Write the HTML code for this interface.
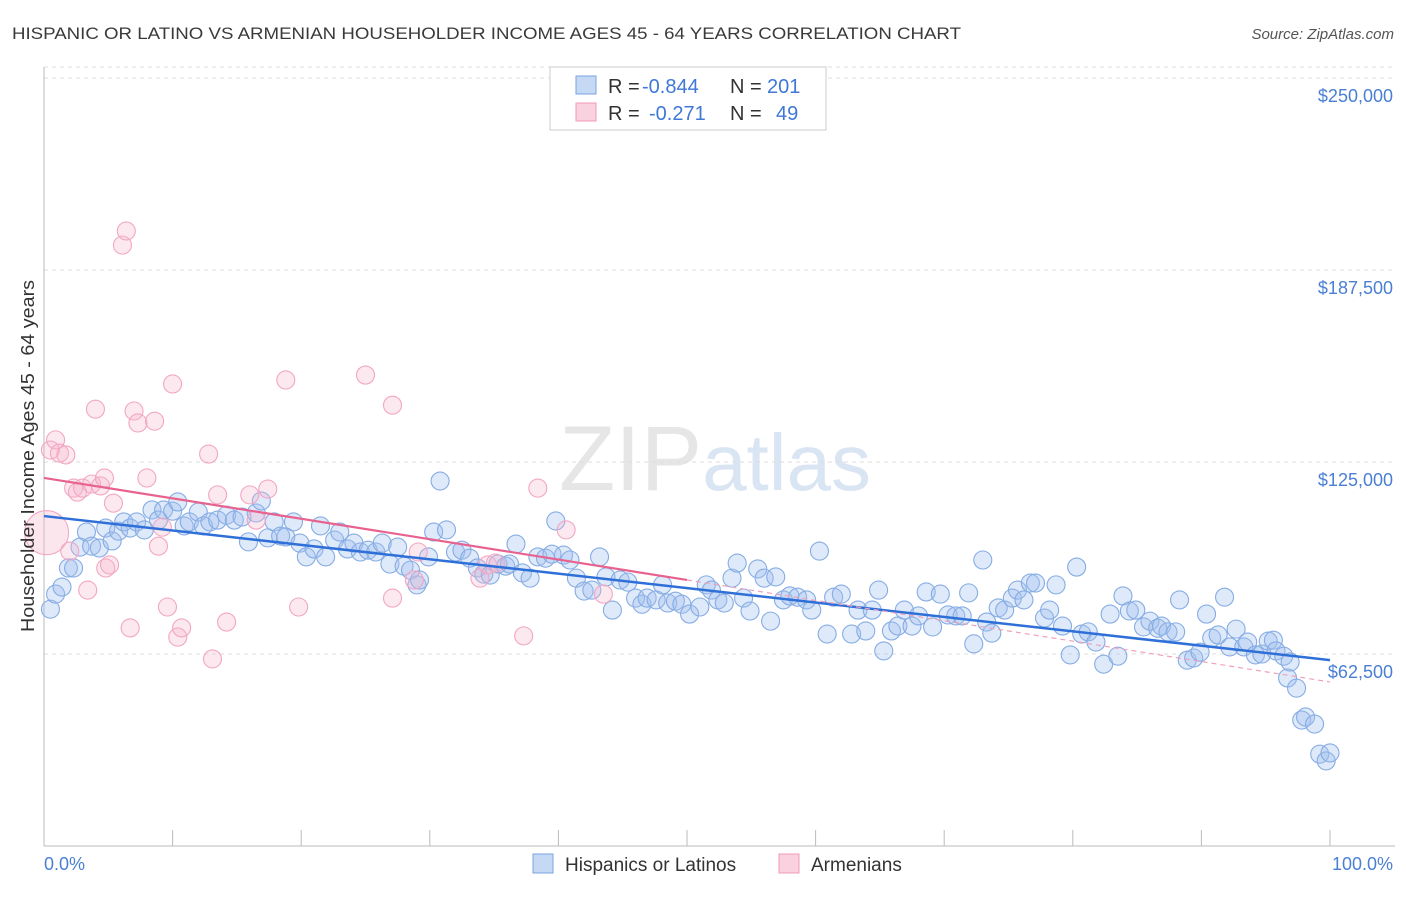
<!DOCTYPE html>
<html><head><meta charset="utf-8"><style>
body{margin:0;background:#fff;font-family:"Liberation Sans",sans-serif;}
svg text{font-family:"Liberation Sans",sans-serif;}
</style></head><body>
<svg id="chart" width="1406" height="892" viewBox="0 0 1406 892" xmlns="http://www.w3.org/2000/svg">
<text x="12" y="39" font-size="17" fill="#3a3a3a" textLength="949" lengthAdjust="spacingAndGlyphs">HISPANIC OR LATINO VS ARMENIAN HOUSEHOLDER INCOME AGES 45 - 64 YEARS CORRELATION CHART</text>
<text x="1394" y="39" font-size="15" fill="#555" text-anchor="end" font-style="italic">Source: ZipAtlas.com</text>
<text x="715" y="490" font-size="92" fill="#e6e6e6" text-anchor="middle" font-family="Liberation Serif"><tspan>ZIP</tspan><tspan fill="#dae5f4" font-family="Liberation Sans" font-size="80">atlas</tspan></text>
<g id="grid"></g>
<g id="axes"></g>
<g id="pts"></g>
<g id="trend"></g>
<text transform="translate(34,456) rotate(-90)" font-size="18" fill="#333" text-anchor="middle" textLength="352" lengthAdjust="spacingAndGlyphs">Householder Income Ages 45 - 64 years</text>
<text x="44" y="870" font-size="18" fill="#4a7fd4">0.0%</text>
<text x="1393" y="870" font-size="18" fill="#4a7fd4" text-anchor="end">100.0%</text>
<g>
<rect x="550" y="67" width="276" height="63" fill="#fff" stroke="#ccc"/>
<rect x="576" y="76" width="20" height="18" fill="#c5d8f4" stroke="#7aa3e0"/>
<rect x="576" y="103" width="20" height="18" fill="#fad2df" stroke="#f09ab8"/>
<text x="608" y="93" font-size="20" fill="#333">R =</text>
<text x="642" y="93" font-size="20" fill="#3f78d6">-0.844</text>
<text x="730" y="93" font-size="20" fill="#333">N =</text>
<text x="767" y="93" font-size="20" fill="#3f78d6">201</text>
<text x="608" y="120" font-size="20" fill="#333">R =</text>
<text x="649" y="120" font-size="20" fill="#3f78d6">-0.271</text>
<text x="730" y="120" font-size="20" fill="#333">N =</text>
<text x="776" y="120" font-size="20" fill="#3f78d6">49</text>
</g>
<g>
<rect x="533" y="854" width="20" height="19" fill="#c5d8f4" stroke="#7aa3e0"/>
<text x="565" y="871" font-size="19" fill="#333">Hispanics or Latinos</text>
<rect x="779" y="854" width="20" height="19" fill="#fad2df" stroke="#f09ab8"/>
<text x="811" y="871" font-size="19" fill="#333">Armenians</text>
</g>
</svg>
<script>
const yTicks=[62500,125000,187500,250000];
const yTickLabels=["$62,500","$125,000","$187,500","$250,000"];
const xTicks=[0,10,20,30,40,50,60,70,80,90,100];
const blueX=[0.5,0.9,1.4,1.9,2.3,2.8,3.3,3.7,4.3,4.8,5.3,5.8,6.2,6.7,7.2,7.8,8.4,8.9,9.3,10,10.4,10.9,11.3,12,12.4,12.9,13.5,14.2,14.8,15.4,15.9,16.5,16.9,17.4,17.9,18.4,18.8,19.4,19.9,20.4,21,21.5,21.9,22.6,23,23.6,24.1,24.6,25.2,25.8,26.3,26.9,27.5,28,28.5,29,29.2,29.9,30.3,30.8,31.3,32,32.5,33.1,33.7,34.2,34.7,35.3,35.9,36.2,36.7,37.2,37.8,38.4,39,39.5,39.8,40.4,40.9,41.4,42,42.6,43.2,43.7,44.2,44.8,45.4,46,46.5,46.9,47.6,48.1,48.5,49.1,49.6,50.2,51,51.5,51.9,52.4,52.9,53.5,53.9,54.4,54.9,55.5,56,56.5,56.9,57.5,58,58.6,59.3,59.7,60.3,60.9,61.4,62,62.8,63.3,63.9,64.4,64.9,65.3,65.9,66.4,66.9,67.5,68,68.6,69.1,69.7,70.3,70.9,71.4,71.9,72.3,73,73.3,73.7,74.2,74.7,75.3,75.7,76.2,76.7,77.1,77.8,78.2,78.7,79.2,79.8,80.3,80.7,81.2,81.8,82.4,82.9,83.5,83.9,84.4,84.9,85.5,86,86.6,86.9,87.4,88,88.3,88.9,89.4,89.9,90.4,90.8,91.3,91.8,92.2,92.7,93.3,93.6,94.2,94.7,95.2,95.6,95.8,96.4,96.7,96.9,97.4,97.8,98.1,98.8,99.2,99.7,100];
const blueY=[77.1,82,84.3,90.5,90.5,97.3,102.2,97.6,97,103.5,99.3,102.5,105.5,103.5,105.5,102.9,109.4,106.1,109.4,109,112,104.2,105.5,108.7,104.2,105.5,106.1,107.7,106.1,107.1,99,108.4,112.3,100.3,105.5,100.9,100.6,105.5,98.6,94.1,96.7,104.2,94.1,99.6,102.2,96.7,98.6,95.7,96.3,95.7,98.6,91.8,97.3,91.1,89.8,85,86.6,94.1,102.2,118.8,102.9,95.7,96.3,93.7,90.5,88.5,88.2,91.8,91.1,91.8,98.3,88.9,87.2,94.1,93.7,95,105.8,94.7,93.1,87.2,83,83.3,94.1,87.6,76.8,86.6,85.9,80.7,78.7,80.7,80.1,85,79.1,79.7,78.7,75.5,77.8,85,83.3,80.1,79.1,87.2,92.1,80.7,76.5,90.2,87.2,73.2,87.6,80.1,81.4,81,80.1,76.8,96,69,81,82,69,76.8,70,76.8,83.3,63.5,70,71.6,76.8,71.6,74.9,82.7,71.3,82,75.2,74.9,74.9,82.4,65.8,93.1,72.9,69.3,77.5,76.8,80.7,83.3,80.1,85.6,85.6,74.2,76.8,85,71.6,62.2,90.8,69,69.7,66.4,59.2,75.5,61.8,81.4,76.5,76.8,71.3,73.2,70.9,71.6,69.7,69.7,80.1,60.5,61.2,63.1,75.5,67.7,68.7,81,64.8,70.6,64.8,66.4,62.2,62.5,66.7,67,63.5,61.8,54.7,59.9,51.4,41,42,39.7,29.9,27.7,30.3];
const pinkX=[0.5,0.9,1.2,1.7,2,2.3,2.6,3,3.4,3.7,4,4.4,4.7,4.8,5.1,5.4,6.1,6.4,6.7,7,7.3,8,8.6,8.9,9.2,9.6,10,10.4,10.7,12.8,13.1,13.5,14.2,16,16.5,17.4,18.8,19.8,25,27.1,27.1,28.8,29.1,33.9,34.5,35.1,37.3,38.4,40.6,43.5];
const pinkY=[128.9,132.2,127.9,127.3,96,116.5,115.2,116.5,83.3,117.8,142.2,117.2,119.8,90.5,91.5,111.6,195.6,200.2,71,141.6,137.7,119.8,138.3,97.6,103.8,77.8,150.4,68,71,127.6,60.9,114.3,72.9,114.3,106.1,116.2,151.7,77.8,153.3,143.5,80.7,86.6,95.7,87.2,91.5,92.1,68.4,116.5,102.9,82];
const bigPinkX=[0.2];const bigPinkY=[102];
const blueTrend=[107.4,60.5];
const pinkTrend=[119.8,53.4];
const pinkSolidEnd=[50];
const NS="http://www.w3.org/2000/svg";
const X0=44,X1=1330,Yb=846;
function xs(v){return X0+(X1-X0)*v/100;}
function ys(k){return Yb-k*1000/62500*192;}
function mk(t,a,p){const e=document.createElementNS(NS,t);for(const k in a)e.setAttribute(k,a[k]);p.appendChild(e);return e;}
const grid=document.getElementById('grid'),axes=document.getElementById('axes'),pts=document.getElementById('pts'),tr=document.getElementById('trend');
mk('line',{x1:44,x2:1395,y1:67,y2:67,stroke:'#ddd','stroke-dasharray':'4,4'},grid);
yTicks.forEach((t,i)=>{const y=ys(t/1000);
const l=mk('line',{x1:44,x2:1395,y1:y,y2:y,stroke:'#ddd','stroke-dasharray':'4,4'},grid);


const tx=mk('text',{x:1393,y:y+24,'font-size':18,fill:'#4a7fd4','text-anchor':'end'},axes);
tx.textContent=yTickLabels[i];

});
mk('line',{x1:44,x2:44,y1:67,y2:846,stroke:'#bbb'},axes);
mk('line',{x1:44,x2:1395,y1:846,y2:846,stroke:'#bbb'},axes);
xTicks.forEach(t=>{const x=xs(t);const l=mk('line',{x1:x,x2:x,y1:830,y2:846,stroke:'#bbb'},axes);

});
blueX.forEach((v,i)=>{const c=mk('circle',{cx:xs(v),cy:ys(blueY[i]),r:9,fill:'rgba(160,192,238,0.35)',stroke:'#86ace4','stroke-width':1.1},pts);

});
pinkX.forEach((v,i)=>{const c=mk('circle',{cx:xs(v),cy:ys(pinkY[i]),r:9,fill:'rgba(246,182,205,0.3)',stroke:'#f2a6c2','stroke-width':1.1},pts);

});
bigPinkX.forEach((v,i)=>{const c=mk('circle',{cx:xs(v),cy:ys(bigPinkY[i]),r:22,fill:'rgba(246,182,205,0.35)',stroke:'#f2a6c2'},pts);

});
const pAt=x=>pinkTrend[0]+(pinkTrend[1]-pinkTrend[0])*x/100;
const bl=mk('line',{x1:xs(0),y1:ys(blueTrend[0]),x2:xs(100),y2:ys(blueTrend[1]),stroke:'#2f6fd8','stroke-width':2.5},tr);


const pl=mk('line',{x1:xs(0),y1:ys(pAt(0)),x2:xs(pinkSolidEnd[0]),y2:ys(pAt(pinkSolidEnd[0])),stroke:'#e8628f','stroke-width':2.2},tr);


const pd=mk('line',{x1:xs(pinkSolidEnd[0]),y1:ys(pAt(pinkSolidEnd[0])),x2:xs(100),y2:ys(pAt(100)),stroke:'#f0a0bd','stroke-width':1.2,'stroke-dasharray':'5,4'},tr);


</script>
</body></html>
